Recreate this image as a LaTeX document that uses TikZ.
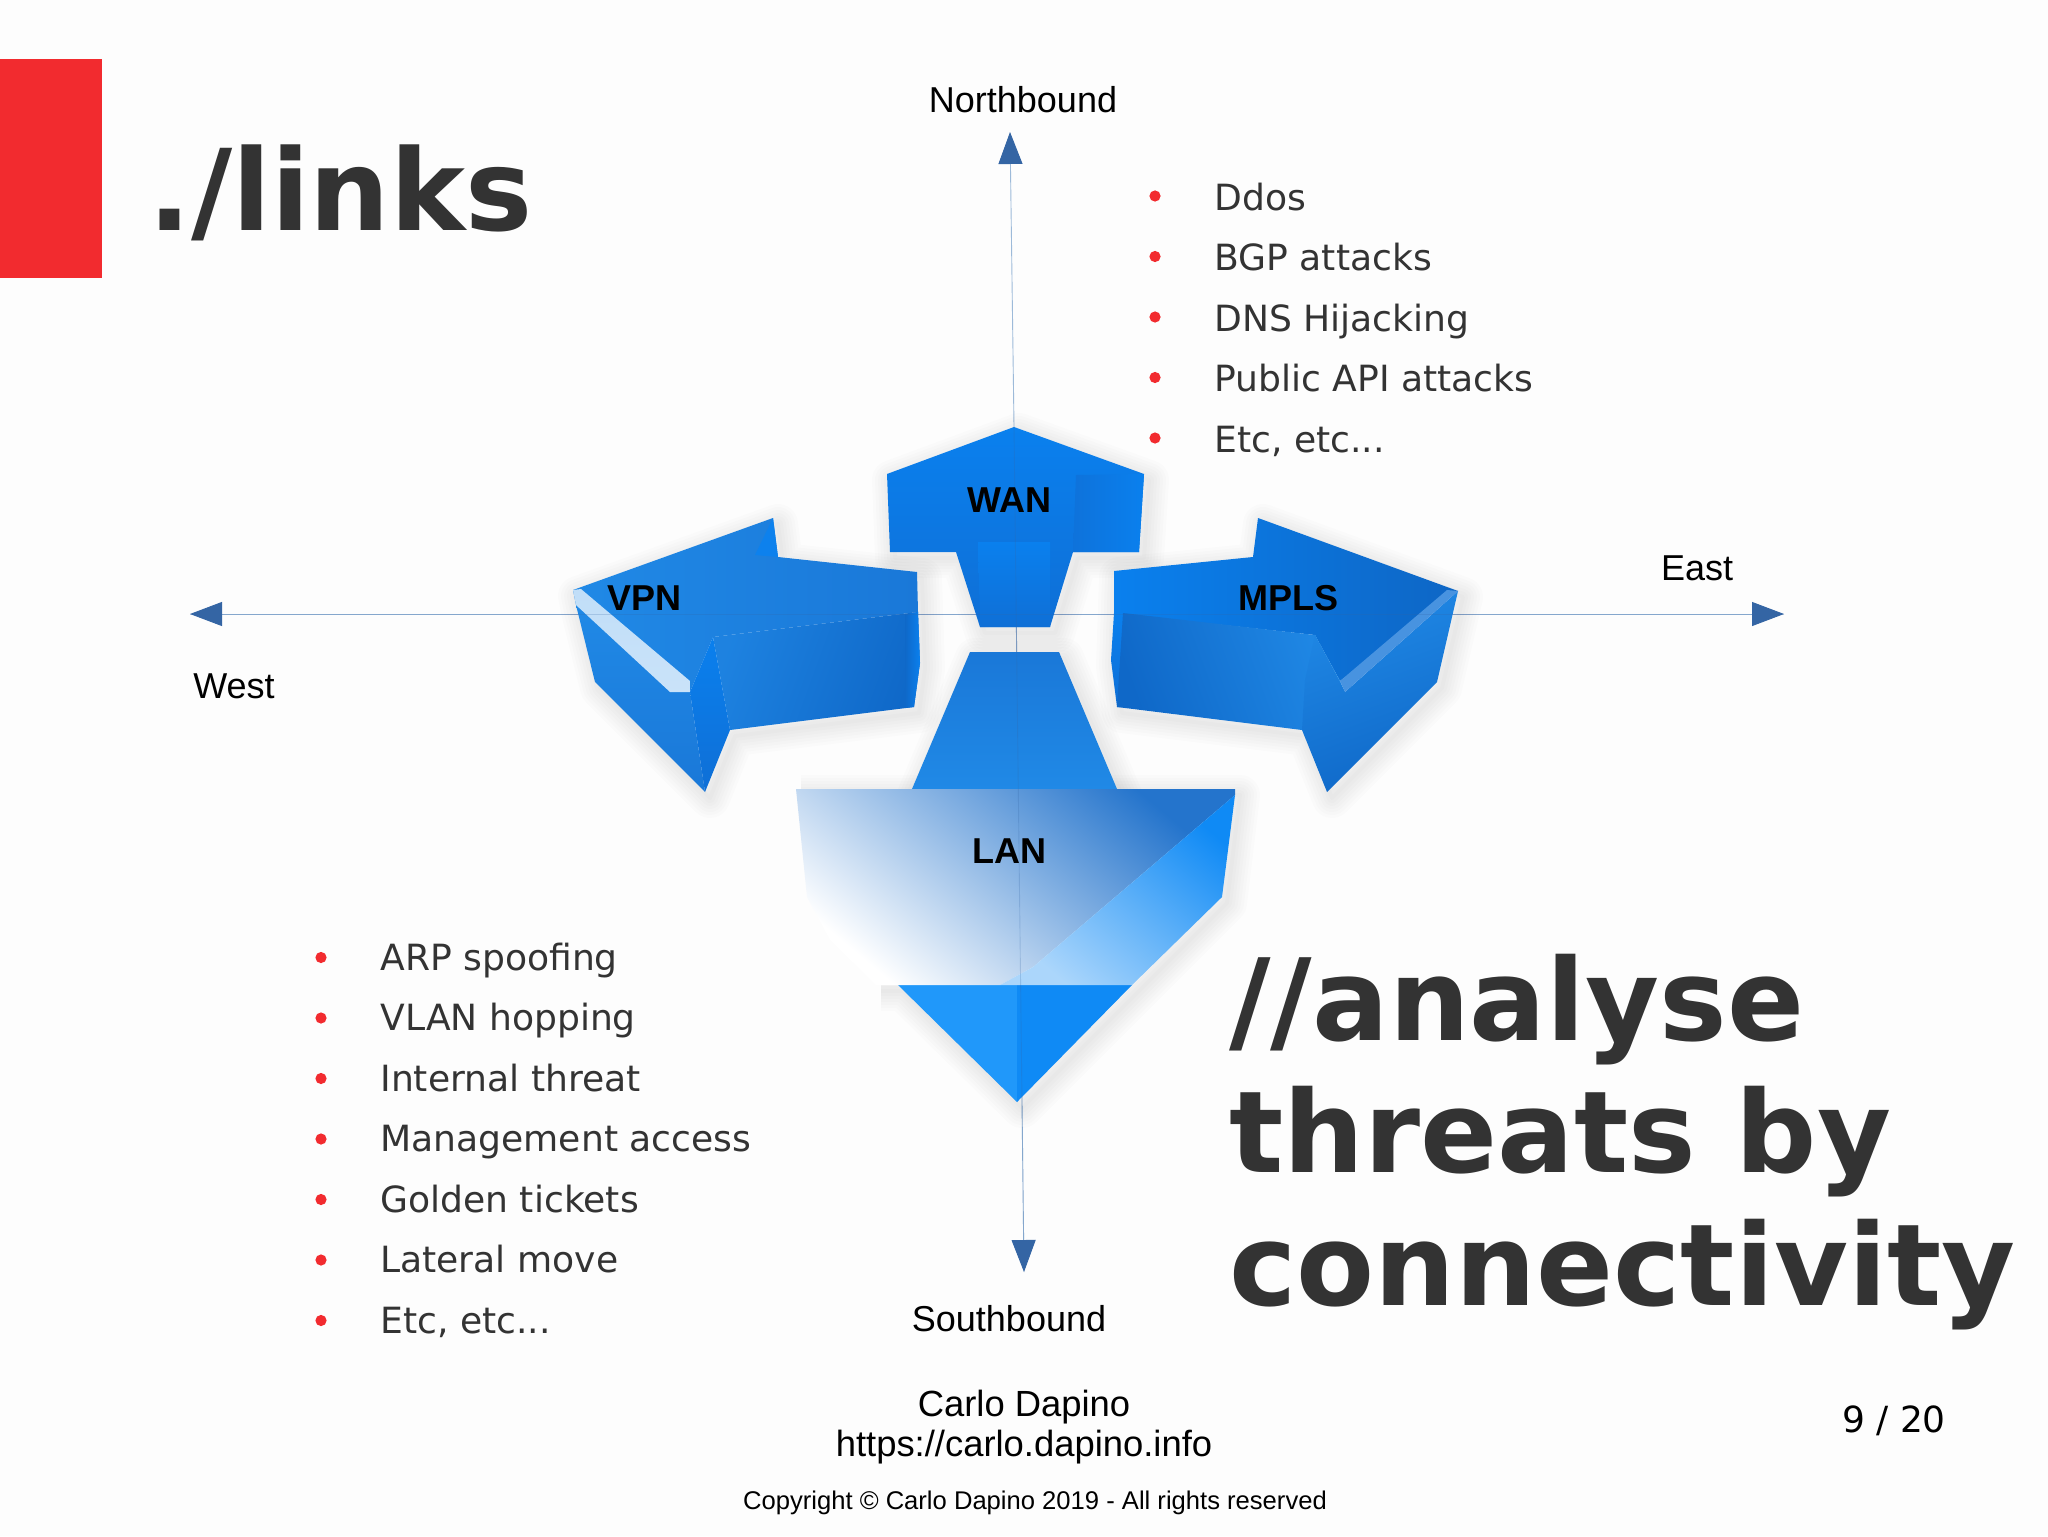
\documentclass[tikz,border=0pt]{standalone}
\usepackage{fontspec}
\setmainfont{Liberation Sans}
\newfontfamily\dejavu{DejaVu Sans}
\usetikzlibrary{arrows.meta}
\definecolor{inkdark}{HTML}{333333}
\definecolor{slidered}{HTML}{F22B2F}
\definecolor{axisblue}{HTML}{9DBAD9}
\definecolor{tipblue}{HTML}{3465A4}
\definecolor{bA}{HTML}{0A80EE}
\definecolor{bB}{HTML}{0F6FD6}
\definecolor{bC}{HTML}{0F68C8}
\definecolor{bD}{HTML}{2089E6}
\definecolor{bE}{HTML}{1A78D8}
\definecolor{bF}{HTML}{2098FA}
\definecolor{bG}{HTML}{0F8AF5}
\definecolor{lanmid}{HTML}{C2DFFA}
\definecolor{lanend}{HTML}{2474CC}
\newcommand{\softshadow}[1]{%
  \foreach \w in {20,17,14,11,8,5,2}{%
    \draw[black,opacity=.012,line width=\w pt,line join=round,xshift=2.5pt,yshift=-3pt] #1;}}
\tikzset{
  x=0.5pt,y=-0.5pt,
  hugetext/.style={font=\dejavu\bfseries\fontsize{56.8}{66}\selectfont,text=inkdark,anchor=base west,inner sep=0},
  titletext/.style={font=\dejavu\bfseries\fontsize{56.4}{66}\selectfont,text=inkdark,anchor=base west,inner sep=0},
  listtext/.style={font=\dejavu\fontsize{18.05}{22}\selectfont,text=inkdark,anchor=base west,inner sep=0},
  plainlabel/.style={font=\fontsize{18}{22}\selectfont,text=black,inner sep=0},
  creditlabel/.style={font=\fontsize{18.2}{22}\selectfont,text=black,inner sep=0},
  linklabel/.style={font=\bfseries\fontsize{18}{22}\selectfont,text=black,inner sep=0},
  bulletdot/.style={circle,fill=slidered,minimum size=5.6pt,inner sep=0},
  axisline/.style={axisblue,line width=0.45pt},
  axisover/.style={tipblue,line width=0.45pt,opacity=.22},
  headtip/.style={-{Triangle[length=16pt,width=12pt,color=tipblue]}},
}
\begin{document}
\begin{tikzpicture}
\useasboundingbox (0,0) rectangle (2048,1536);
\fill[white!99.4!black] (0,0) rectangle (2048,1536);

\coordinate (north) at (1010,132);
\coordinate (south) at (1024,1272);
\coordinate (west) at (190,614);
\coordinate (east) at (1784,614);
\coordinate (axismidv) at (1014,427);
\coordinate (axismidh) at (1000,614);
\draw[axisline,headtip] (axismidv) -- (north);
\draw[axisline,headtip] (axismidv) -- (south);
\draw[axisline,headtip] (axismidh) -- (west);
\draw[axisline,headtip] (axismidh) -- (east);

% red block
\fill[slidered] (0,59) rectangle (102,278);

% shadows
\softshadow{(1014,427) -- (1144,474) -- (1139,552) -- (1073,552) -- (1050,627) -- (980,627) -- (956,552) -- (890,552) -- (887,474) -- cycle}
\softshadow{(573,590) -- (773,518) -- (778,557) -- (917,572) -- (920,663) -- (914,707) -- (730,730) -- (705,792) -- (595,682) -- (576,605) -- cycle}
\softshadow{(1258,518) -- (1458,591) -- (1437,682) -- (1327,792) -- (1302,730) -- (1117,707) -- (1111,660) -- (1114,571) -- (1253,557) -- cycle}
\softshadow{(970,652) -- (1059,652) -- (1117,789) -- (912,789) -- cycle}
\softshadow{(796,789) -- (1235,789) -- (1222,897) -- (1017,1102) -- (898,985) -- (876,985)}

% WAN
\shade[top color=bA,bottom color=bB] (1014,427) -- (1144,474) -- (1139,552) -- (1073,552) -- (1050,627) -- (980,627) -- (956,552) -- (890,552) -- (887,474) -- cycle;
\shade[left color=bB!80!bA,right color=bA] (1076,475) -- (1144,474) -- (1139,552) -- (1073,552) -- cycle;
\shade[top color=bA,bottom color=bB] (978,542) -- (1050,542) -- (1050,627) -- (980,627) -- cycle;

% VPN
\shade[left color=bD,right color=bE] (573,590) -- (773,518) -- (778,557) -- (917,572) -- (918,612) -- (713,637) -- (690,692) -- (576,605) -- cycle;
\fill[bA!85!bD] (773,518) -- (778,557) -- (755,555) -- cycle;
\shade[left color=bD!60!bE,right color=bC,shading angle=70] (713,637) -- (918,612) -- (920,663) -- (914,707) -- (730,730) -- cycle;
\shade[left color=bC,right color=bA] (905,614) -- (918,612) -- (920,663) -- (914,707) -- (905,708) -- cycle;
\shade[top color=bD,bottom color=bE] (576,605) -- (690,692) -- (705,792) -- (595,682) -- cycle;
\shade[top color=bA,bottom color=bB] (713,637) -- (730,730) -- (705,792) -- (690,692) -- cycle;
\shade[top color=white!72!bD,bottom color=white!76!bD] (573,590) -- (581,589) -- (690,681) -- (690,692) -- (670,692) -- (576,605) -- cycle;

% MPLS
\shade[left color=bA,right color=bB!92!black] (1258,518) -- (1458,591) -- (1340,681) -- (1315,635) -- (1114,613) -- (1114,571) -- (1253,557) -- cycle;
\shade[top color=bA,bottom color=bB] (1114,613) -- (1123,613) -- (1121,707) -- (1117,707) -- (1111,660) -- cycle;
\shade[left color=bC,right color=bD,shading angle=110] (1123,613) -- (1315,635) -- (1340,681) -- (1345,692) -- (1302,730) -- (1117,707) -- cycle;
\shade[top color=bD,bottom color=bC,shading angle=20] (1345,692) -- (1458,591) -- (1437,682) -- (1327,792) -- (1302,730) -- (1305,680) -- (1315,635) -- cycle;
\fill[white!20!bE] (1340,681) -- (1447,590) -- (1458,591) -- (1345,692) -- cycle;

% LAN
\shade[top color=bE,bottom color=bD] (970,652) -- (1059,652) -- (1117,789) -- (912,789) -- cycle;
\fill[bF] (898,985) -- (1017,985) -- (1017,1102) -- cycle;
\fill[bG] (1017,985) -- (1132,985) -- (1017,1102) -- cycle;
\shade[left color=white,middle color=lanmid,right color=lanend,shading angle=140] (796,789) -- (1235,789) -- (1235,795) -- (1033,967) -- (1000,985) -- (876,985) -- (830,940) -- (807,897) -- cycle;
\shade[left color=white!65!bG,right color=bG,shading angle=140] (1235,795) -- (1222,897) -- (1132,985) -- (1000,985) -- (1033,967) -- cycle;

% axes over the shapes
\draw[axisover] (axismidv) -- (south);
\draw[axisover] (west) -- (east);

% titles
\node[titletext] (title) at (148,230) {./links};
\node[hugetext] (claimA) at (1229,1040) {//analyse};
\node[hugetext] (claimB) at (1229,1172) {threats by};
\node[hugetext] (claimC) at (1229,1305) {connectivity};

% upper list
\foreach \n/\t/\yy in {a/Ddos/210,b/BGP attacks/270.5,c/DNS Hijacking/331,d/Public API attacks/391.5,e/{Etc, etc...}/452}{
  \node[listtext] (up\n) at (1214,\yy) {\t};
  \node[bulletdot] (upb\n) at (1155,\yy-14) {};
}
% lower list
\foreach \n/\t/\yy in {a/ARP spoofing/970,b/VLAN hopping/1030.5,c/Internal threat/1091,d/Management access/1151.5,e/Golden tickets/1212,f/Lateral move/1272.5,g/{Etc, etc...}/1333}{
  \node[listtext] (lo\n) at (380,\yy) {\t};
  \node[bulletdot] (lob\n) at (321,\yy-12.5) {};
}

% axis labels
\node[plainlabel] (lnorth) at (1023,100) {Northbound};
\node[plainlabel] (least) at (1697,568) {East};
\node[plainlabel] (lwest) at (234,686) {West};
\node[plainlabel] (lsouth) at (1009,1319) {Southbound};

% link labels
\node[linklabel] (wan) at (1009,500) {WAN};
\node[linklabel] (vpn) at (644,598) {VPN};
\node[linklabel] (mpls) at (1288,598) {MPLS};
\node[linklabel] (lan) at (1009,851) {LAN};

% footer
\node[creditlabel] (author) at (1024,1407) {Carlo Dapino};
\node[creditlabel] (site) at (1024,1447) {https://carlo.dapino.info};
\node[font=\fontsize{12.8}{16}\selectfont,text=black,inner sep=0] (copy) at (1035,1503) {Copyright © Carlo Dapino 2019 - All rights reserved};
\node[font=\dejavu\fontsize{18}{22}\selectfont,text=black,inner sep=0] (page) at (1894,1421) {9 / 20};
\end{tikzpicture}
\end{document}
